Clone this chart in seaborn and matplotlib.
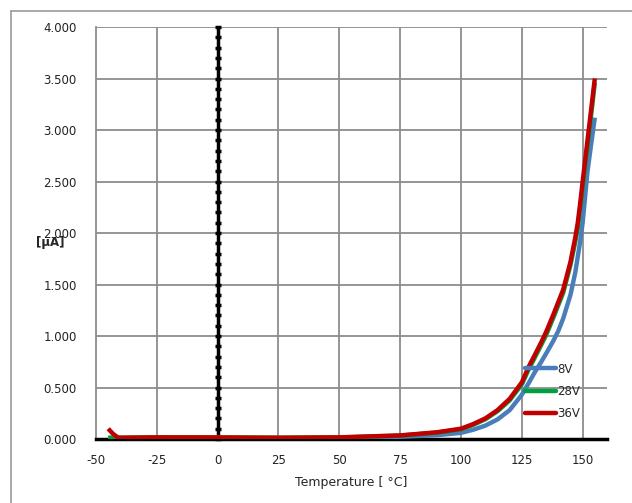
import numpy as np
import pandas as pd
import matplotlib
matplotlib.use("Agg")
import matplotlib.pyplot as plt
import seaborn as sns
from matplotlib.lines import Line2D

temps = [-45, -43, -41, -40, -25, 0, 25, 50, 75, 90, 100, 105, 110, 115, 120, 125, 128,
         130, 133, 135, 138, 140, 142, 145, 147, 148, 149, 150, 152, 154, 155]
i_8v = [0.010, 0.010, 0.010, 0.010, 0.012, 0.012, 0.010, 0.012, 0.022, 0.037, 0.060, 0.090,
        0.130, 0.190, 0.280, 0.430, 0.550, 0.635, 0.750, 0.830, 0.955, 1.050, 1.170, 1.400,
        1.620, 1.770, 1.920, 2.100, 2.600, 2.950, 3.120]
i_28v = [0.012, 0.012, 0.012, 0.012, 0.015, 0.014, 0.012, 0.015, 0.033, 0.062, 0.095, 0.138,
         0.192, 0.270, 0.375, 0.530, 0.685, 0.775, 0.915, 1.010, 1.180, 1.300, 1.420, 1.690,
         1.920, 2.050, 2.240, 2.440, 2.850, 3.250, 3.460]
i_36v = [0.100, 0.050, 0.015, 0.012, 0.016, 0.015, 0.012, 0.016, 0.035, 0.065, 0.100, 0.145,
         0.200, 0.280, 0.390, 0.550, 0.710, 0.800, 0.940, 1.040, 1.210, 1.330, 1.450, 1.720,
         1.960, 2.100, 2.290, 2.500, 2.900, 3.300, 3.500]
series = ["8V", "28V", "36V"]
colors = ["#4a7ebb", "#00a040", "#c00000"]
xticks = [-50, -25, 0, 25, 50, 75, 100, 125, 150]
yticks = [0.0, 0.5, 1.0, 1.5, 2.0, 2.5, 3.0, 3.5, 4.0]

df = pd.DataFrame({"T": temps * 3,
                   "I": i_8v + i_28v + i_36v,
                   "V": sum([[s] * len(temps) for s in series], [])})

sns.set_style("white")
plt.rcParams["font.family"] = ["DejaVu Sans"]

fig = plt.figure(figsize=(6.32, 5.03), dpi=100)
ax = fig.add_axes([0.1519, 0.1272, 0.8085, 0.8191])

# figure border
fig.add_artist(plt.Line2D([0.0174, 0.0174], [0, 0.979], transform=fig.transFigure, color="#999999", lw=1.2))
fig.add_artist(plt.Line2D([0.0174, 1.0], [0.979, 0.979], transform=fig.transFigure, color="#999999", lw=1.2))

ax.set_xlim(-50, 160)
ax.set_ylim(0, 4.0)
ax.set_xticks(xticks)
ax.set_yticks(yticks)
ax.set_xticklabels([str(t) for t in xticks], fontsize=8.5, color="#222222")
ax.set_yticklabels([f"{v:.3f}" for v in yticks], fontsize=8.5, color="#222222")

# grid
for t in xticks[1:]:
    ax.axvline(t, color="#8c8c8c", lw=1.3, zorder=0)
for v in yticks[1:]:
    ax.axhline(v, color="#8c8c8c", lw=1.3, zorder=0)

for s in ["top", "right"]:
    ax.spines[s].set_visible(False)
ax.spines["left"].set_color("#8c8c8c")
ax.spines["left"].set_linewidth(1.3)
ax.spines["bottom"].set_color("black")
ax.spines["bottom"].set_linewidth(2.5)

ax.tick_params(axis="y", length=0, pad=14)
ax.tick_params(axis="x", which="major", direction="out", length=3, width=2.5, color="black", pad=8)
ax.set_xticks(np.arange(-50, 161, 5), minor=True)
ax.tick_params(axis="x", which="minor", direction="out", length=3, width=2.5, color="black")

# secondary vertical axis crossing at 0
ax.axvline(0, color="black", lw=2.5, zorder=2)
ax.plot(np.zeros(41), np.arange(0, 4.01, 0.1), linestyle="none", marker="_",
        markersize=5, mew=2.5, color="black", zorder=2, clip_on=False)

for s, c in zip(series, colors):
    sub = df[df["V"] == s]
    sns.lineplot(data=sub, x="T", y="I", ax=ax, color=c, lw=3.2, legend=False,
                 zorder=3, solid_capstyle="butt", solid_joinstyle="round")

ax.set_xlabel("Temperature [ °C]", fontsize=9, labelpad=6)
ax.set_ylabel("")
ax.text(-0.09, 0.478, "[μA]", transform=ax.transAxes, fontsize=8.5,
        fontweight="bold", ha="center", va="center")

handles = [Line2D([0], [0], color=c, lw=3.2) for c in colors]
leg = ax.legend(handles, series, loc="upper left", bbox_to_anchor=(0.83, 0.197),
                frameon=False, fontsize=8.5, handlelength=2.6, handletextpad=0.15,
                labelspacing=0.78, borderaxespad=0)

fig.savefig("out.png", dpi=100)
